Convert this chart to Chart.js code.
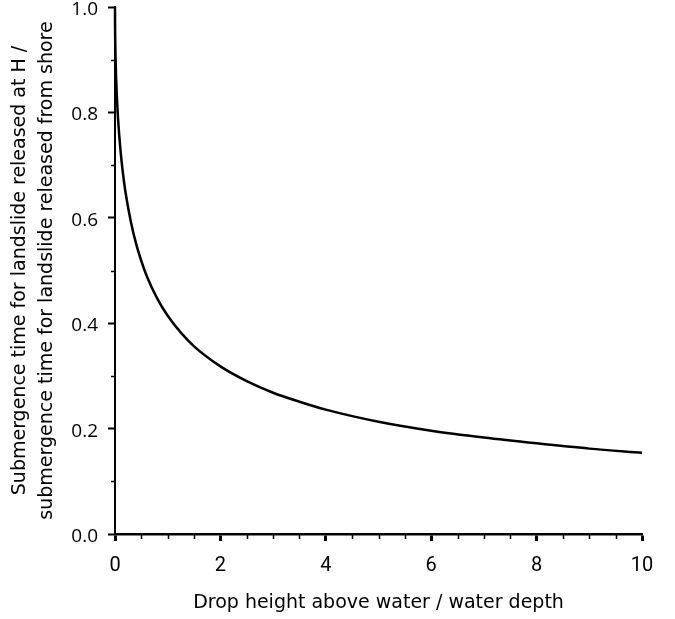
<!DOCTYPE html>
<html lang="en">
  <head>
    <meta charset="utf-8" />
    <title>Submergence time ratio</title>
    <style>
      html, body { margin: 0; padding: 0; background: white; }
      #wrap { width: 675px; height: 619px; }
    </style>
  </head>
  <body>
    <div id="wrap"><canvas id="chart" width="675" height="619"></canvas></div>
    <script src="https://cdn.jsdelivr.net/npm/chart.js"></script>
    <script>
      // values
      const dropHeight = [0, 0.002, 0.005, 0.01, 0.02, 0.05, 0.1, 0.15, 0.2, 0.3, 0.4, 0.5, 0.6, 0.8, 1, 1.25, 1.5, 2, 2.5, 3, 3.5, 4, 5, 6, 7, 8, 9, 10];
      const timeRatio = [1.0, 0.956, 0.932, 0.905, 0.869, 0.801, 0.733, 0.685, 0.648, 0.593, 0.551, 0.518, 0.49, 0.447, 0.414, 0.382, 0.356, 0.318, 0.29, 0.268, 0.251, 0.236, 0.213, 0.196, 0.183, 0.172, 0.162, 0.154];

      const xMajor = [0, 2, 4, 6, 8, 10];
      const xMinor = [0.5, 1, 1.5, 2.5, 3, 3.5, 4.5, 5, 5.5, 6.5, 7, 7.5, 8.5, 9, 9.5];
      const yMajor = [0, 0.2, 0.4, 0.6, 0.8, 1.0];
      const yMinor = [0.1, 0.3, 0.5, 0.7, 0.9];

      const minorTicks = {
        id: "minorTicks",
        afterDraw(chart) {
          const ctx = chart.ctx;
          const xs = chart.scales.x;
          const ys = chart.scales.y;
          ctx.save();
          ctx.strokeStyle = "#000";
          ctx.lineWidth = 1.5;
          ctx.beginPath();
          xMinor.forEach((v) => {
            const px = Math.round(xs.getPixelForValue(v)) + 0.5;
            ctx.moveTo(px, ys.bottom);
            ctx.lineTo(px, ys.bottom + 5);
          });
          yMinor.forEach((v) => {
            const py = Math.round(ys.getPixelForValue(v)) + 0.5;
            ctx.moveTo(xs.left, py);
            ctx.lineTo(xs.left - 4, py);
          });
          ctx.stroke();
          ctx.restore();
        },
      };

      const canvas = document.getElementById("chart");

      new Chart(canvas, {
        type: "line",
        data: {
          datasets: [
            {
              data: dropHeight.map((x, i) => ({ x, y: timeRatio[i] })),
              borderColor: "#000",
              borderWidth: 2.5,
              pointRadius: 0,
              cubicInterpolationMode: "monotone",
              fill: false,
              clip: false,
            },
          ],
        },
        options: {
          responsive: false,
          animation: false,
          layout: { padding: { top: 7, right: 33, left: 0, bottom: 0 } },
          plugins: { legend: { display: false }, tooltip: { enabled: false } },
          scales: {
            x: {
              type: "linear",
              min: 0,
              max: 10,
              afterBuildTicks: (s) => { s.ticks = xMajor.map((value) => ({ value })); },
              afterFit: (s) => { s.height = 85; s.paddingLeft = 0; s.paddingRight = 0; },
              grid: { drawOnChartArea: false, tickLength: 7, tickWidth: 3, tickColor: "#000" },
              border: { color: "#000", width: 2.5 },
              ticks: {
                color: "#000",
                padding: 13,
                font: { family: "Roboto, sans-serif", size: 20 },
              },
              title: {
                display: true,
                text: "Drop height above water / water depth",
                color: "#000",
                padding: { top: 0, bottom: 5 },
                font: { family: "'DejaVu Sans', sans-serif", size: 19 },
              },
            },
            y: {
              min: 0,
              max: 1,
              afterBuildTicks: (s) => { s.ticks = yMajor.map((value) => ({ value })); },
              afterFit: (s) => { s.width = 115; s.paddingTop = 0; s.paddingBottom = 0; },
              grid: { drawOnChartArea: false, tickLength: 7, tickWidth: 2, tickColor: "#000" },
              border: { color: "#000", width: 2 },
              ticks: {
                color: "#000",
                padding: 10,
                labelOffset: 2.5,
                callback: (v) => v.toFixed(1),
                font: { family: "'Open Sans', sans-serif", size: 19 },
              },
              title: {
                display: true,
                text: ["Submergence time for landslide released at H /", "submergence time for landslide released from shore"],
                color: "#000",
                padding: { top: 7, bottom: 0 },
                font: { family: "'DejaVu Sans', sans-serif", size: 19, lineHeight: 1.42 },
              },
            },
          },
        },
        plugins: [minorTicks],
      });
    </script>
  </body>
</html>
